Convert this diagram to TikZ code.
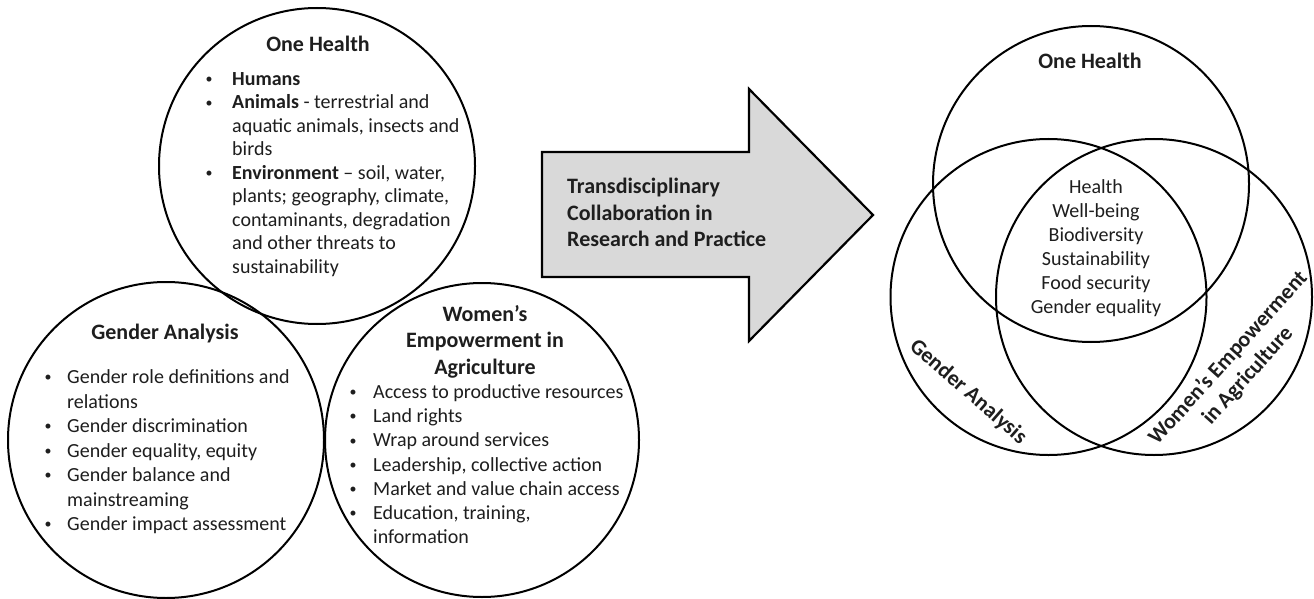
\documentclass[tikz,border=0pt]{standalone}
\usepackage{fontspec}
\setmainfont{Carlito}
\definecolor{ink}{HTML}{1E1E1E}
\definecolor{arrowfill}{HTML}{D9D9D9}
% small bullet centred #1pt to the left of the item text
\newcommand\smallbul{\raisebox{1.8pt}{\scalebox{0.7}{\textbullet}}}
\newcommand\bul[1]{\llap{\makebox[0pt]{\smallbul}\hspace{#1pt}}}
\begin{document}
\begin{tikzpicture}[x=1pt,y=-1pt,
  ring/.style={draw=black,line width=2pt},
  titletext/.style={font=\bfseries\fontsize{22}{26.5}\selectfont,text=ink,inner sep=0pt},
  bodytext/.style={font=\fontsize{20}{24}\selectfont,text=ink,inner sep=0pt},
  bigarrow/.style={draw=black,line width=2.2pt,fill=arrowfill,line join=miter},
]
\useasboundingbox[fill=white] (0,0) rectangle (1314,599);

% ---- three separate domains ----
\draw[ring] (317,166) circle[radius=158pt];
\draw[ring] (166,440) circle[radius=158pt];
\draw[ring] (482,440) circle[radius=157pt];

\node[titletext,anchor=base] (ohtitle) at (318,51.5) {One Health};
\node[bodytext,anchor=base west] (ohlist) at (232,85.5) {\fontsize{20}{23.5}\selectfont
  \begin{tabular}[t]{@{}l@{}}
  \bul{23}\textbf{Humans}\\
  \bul{23}\textbf{Animals} - terrestrial and\\
  aquatic animals, insects and\\
  birds\\
  \bul{23}\textbf{Environment} – soil, water,\\
  plants; geography, climate,\\
  contaminants, degradation\\
  and other threats to\\
  sustainability
  \end{tabular}};

\node[titletext,anchor=base] (gatitle) at (165,339.5) {Gender Analysis};
\node[bodytext,anchor=base west] (galist) at (67,383.5) {\fontsize{20}{24.5}\selectfont
  \begin{tabular}[t]{@{}l@{}}
  \bul{19}Gender role definitions and\\
  relations\\
  \bul{19}Gender discrimination\\
  \bul{19}Gender equality, equity\\
  \bul{19}Gender balance and\\
  mainstreaming\\
  \bul{19}Gender impact assessment
  \end{tabular}};

\node[titletext,anchor=base] (wetitle) at (485,321.5) {\fontsize{22}{26.3}\selectfont
  \begin{tabular}[t]{@{}c@{}}
  Women’s\\
  Empowerment in\\
  Agriculture
  \end{tabular}};
\node[bodytext,anchor=base west] (welist) at (373,398.5) {\fontsize{20}{24.2}\selectfont
  \begin{tabular}[t]{@{}l@{}}
  \bul{20}Access to productive resources\\
  \bul{20}Land rights\\
  \bul{20}Wrap around services\\
  \bul{20}Leadership, collective action\\
  \bul{20}Market and value chain access\\
  \bul{20}Education, training,\\
  information
  \end{tabular}};

% ---- block arrow ----
\draw[bigarrow] (542,152) -- (749,152) -- (749,89) -- (873,215)
  -- (749,341) -- (749,277) -- (542,277) -- cycle;
\node[titletext,anchor=base west] (arrowtext) at (567,193.5) {
  \begin{tabular}[t]{@{}l@{}}
  Transdisciplinary\\
  Collaboration in\\
  Research and Practice
  \end{tabular}};

% ---- overlapping domains ----
\draw[ring] (1091,184) circle[radius=158pt];
\draw[ring] (1048.5,297) circle[radius=158pt];
\draw[ring] (1154,297) circle[radius=158pt];

\node[titletext,anchor=base] (vohtitle) at (1090,68.5) {One Health};
\node[bodytext,anchor=base] (shared) at (1096,193.5) {
  \begin{tabular}[t]{@{}c@{}}
  Health\\
  Well-being\\
  Biodiversity\\
  Sustainability\\
  Food security\\
  Gender equality
  \end{tabular}};
\node[titletext,rotate=-41] (vgatitle) at (968,392) {Gender Analysis};
\node[titletext,rotate=48,align=center] (vwetitle) at (1238,367)
  {Women’s Empowerment\\in Agriculture};
\end{tikzpicture}
\end{document}
